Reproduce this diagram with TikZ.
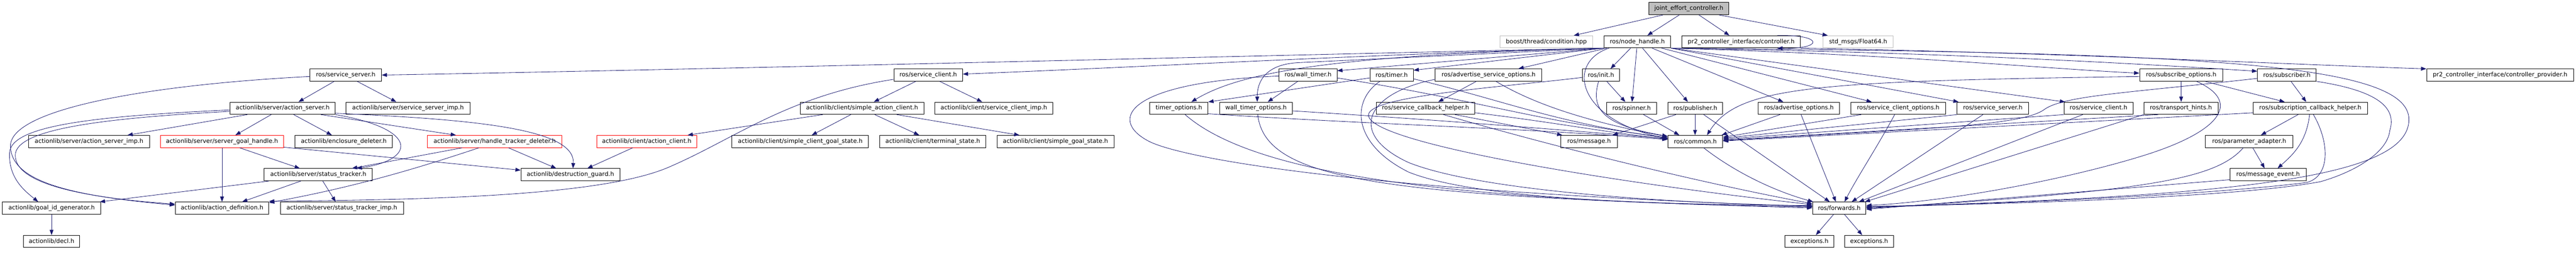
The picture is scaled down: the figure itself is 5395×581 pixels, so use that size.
\documentclass[tikz,border=0pt]{standalone}
\usepackage{fontspec}
\setmainfont{DejaVu Sans}
\usetikzlibrary{arrows.meta}
\definecolor{edgec}{HTML}{191970}
\definecolor{greyb}{HTML}{BFBFBF}
\begin{document}
\begin{tikzpicture}[x=1pt,y=-1pt,
  nbox/.style={draw=black,line width=1pt,rectangle,inner sep=0pt,minimum height=25.5pt,font=\fontsize{12.5}{15}\selectfont},
  redbox/.style={nbox,draw=red},
  greybox/.style={nbox,draw=greyb},
  rootbox/.style={nbox,fill=greyb},
  conn/.style={draw=edgec,line width=0.9pt,-{Triangle[length=11pt,width=8pt]}}]
\useasboundingbox (0,0) rectangle (5395,581);
% row 0
\node[rootbox,minimum width=168pt] (jec) at (3537,18) {joint\_effort\_controller.h};
% row 1
\node[greybox,minimum width=195pt] (boost) at (3238.5,87.5) {boost/thread/condition.hpp};
\node[nbox,minimum width=140pt] (nh) at (3429,87.5) {ros/node\_handle.h};
\node[nbox,minimum width=249pt] (ctrl) at (3646.5,87.5) {pr2\_controller\_interface/controller.h};
\node[greybox,minimum width=147pt] (float) at (3891.5,87.5) {std\_msgs/Float64.h};
% row 2
\node[nbox,minimum width=150pt] (ssL) at (724,157) {ros/service\_server.h};
\node[nbox,minimum width=144pt] (scL) at (1944,157) {ros/service\_client.h};
\node[nbox,minimum width=121pt] (wtimer) at (2739.5,157) {ros/wall\_timer.h};
\node[nbox,minimum width=91pt] (timer) at (2914.5,157) {ros/timer.h};
\node[nbox,minimum width=223pt] (aso) at (3117.5,157) {ros/advertise\_service\_options.h};
\node[nbox,minimum width=78pt] (init) at (3353,157) {ros/init.h};
\node[nbox,minimum width=174pt] (subopt) at (4568,157) {ros/subscribe\_options.h};
\node[nbox,minimum width=123pt] (sub) at (4789.5,157) {ros/subscriber.h};
\node[nbox,minimum width=308pt] (prov) at (5236,157) {pr2\_controller\_interface/controller\_provider.h};
% row 3
\node[nbox,minimum width=220pt] (as) at (592,226.5) {actionlib/server/action\_server.h};
\node[nbox,minimum width=259pt] (ssimp) at (854.5,226.5) {actionlib/server/service\_server\_imp.h};
\node[nbox,minimum width=259pt] (sac) at (1805.5,226.5) {actionlib/client/simple\_action\_client.h};
\node[nbox,minimum width=247pt] (scimp) at (2081.5,226.5) {actionlib/client/service\_client\_imp.h};
\node[nbox,minimum width=122pt] (topt) at (2469,226.5) {timer\_options.h};
\node[nbox,minimum width=153pt] (wtopt) at (2630.5,226.5) {wall\_timer\_options.h};
\node[nbox,minimum width=207pt] (scbh) at (2985.5,226.5) {ros/service\_callback\_helper.h};
\node[nbox,minimum width=104pt] (spin) at (3417,226.5) {ros/spinner.h};
\node[nbox,minimum width=115pt] (pub) at (3550.5,226.5) {ros/publisher.h};
\node[nbox,minimum width=171pt] (aopt) at (3767.5,226.5) {ros/advertise\_options.h};
\node[nbox,minimum width=199pt] (scopt) at (3975.5,226.5) {ros/service\_client\_options.h};
\node[nbox,minimum width=149pt] (ssR) at (4173.5,226.5) {ros/service\_server.h};
\node[nbox,minimum width=144pt] (scR) at (4395,226.5) {ros/service\_client.h};
\node[nbox,minimum width=155pt] (th) at (4567.5,226.5) {ros/transport\_hints.h};
\node[nbox,minimum width=239pt] (subcb) at (4838.5,226.5) {ros/subscription\_callback\_helper.h};
% row 4
\node[nbox,minimum width=253pt] (asimp) at (186.5,296) {actionlib/server/action\_server\_imp.h};
\node[redbox,minimum width=258pt] (sgh) at (465,296) {actionlib/server/server\_goal\_handle.h};
\node[nbox,minimum width=204pt] (encl) at (720,296) {actionlib/enclosure\_deleter.h};
\node[redbox,minimum width=282pt] (htd) at (1036,296) {actionlib/server/handle\_tracker\_deleter.h};
\node[redbox,minimum width=209pt] (ac) at (1354.5,296) {actionlib/client/action\_client.h};
\node[nbox,minimum width=286pt] (scgs) at (1676,296) {actionlib/client/simple\_client\_goal\_state.h};
\node[nbox,minimum width=223pt] (term) at (1953.5,296) {actionlib/client/terminal\_state.h};
\node[nbox,minimum width=245pt] (sgs) at (2210.5,296) {actionlib/client/simple\_goal\_state.h};
\node[nbox,minimum width=118pt] (msg) at (3328,296) {ros/message.h};
\node[nbox,minimum width=115pt] (common) at (3550.5,296) {ros/common.h};
\node[nbox,minimum width=183pt] (padapt) at (4710.5,296) {ros/parameter\_adapter.h};
% row 5
\node[nbox,minimum width=227pt] (st) at (666.5,365.5) {actionlib/server/status\_tracker.h};
\node[nbox,minimum width=207pt] (dg) at (1194.5,365.5) {actionlib/destruction\_guard.h};
\node[nbox,minimum width=160pt] (mevent) at (4750,365.5) {ros/message\_event.h};
% row 6
\node[nbox,minimum width=206pt] (gid) at (108,435.5) {actionlib/goal\_id\_generator.h};
\node[nbox,minimum width=196pt] (adef) at (465,435.5) {actionlib/action\_definition.h};
\node[nbox,minimum width=258pt] (stimp) at (716,435.5) {actionlib/server/status\_tracker\_imp.h};
\node[nbox,minimum width=112pt] (fwd) at (3852,435.5) {ros/forwards.h};
% row 7
\node[nbox,minimum width=118pt] (decl) at (108,505) {actionlib/decl.h};
\node[nbox,minimum width=103pt] (exc1) at (3789.5,505) {exceptions.h};
\node[nbox,minimum width=103pt] (exc2) at (3914.5,505) {exceptions.h};

% ---- top
\draw[conn] (3483,0 |- jec.south) -- (3296,0 |- boost.north);
\draw[conn] (3517,0 |- jec.south) -- (3450,0 |- nh.north);
\draw[conn] (3558,0 |- jec.south) -- (3622,0 |- ctrl.north);
\draw[conn] (3600,0 |- jec.south) -- (3828,0 |- float.north);
\draw[conn] (3722,0 |- ctrl.north) .. controls (3820,72) and (3820,103) .. (3722,0 |- ctrl.south);
\draw[conn] (ctrl.south east) .. controls (4300,110) and (4800,135) .. (prov.west |- 0,144);
% ---- node_handle
\draw[conn] (nh.south west) .. controls (2900,110) and (1500,145) .. (ssL.east |- 0,157);
\draw[conn] (nh.south west) .. controls (2900,112) and (2400,140) .. (scL.east |- 0,155);
\draw[conn] (nh.south west) -- (wtimer.east |- 0,148);
\draw[conn] (nh.south west) -- (timer.east |- 0,147);
\draw[conn] (nh.south west) .. controls (2800,115) and (2600,150) .. (2495,0 |- topt.north);
\draw[conn] (nh.south west) -- (2720,131) .. controls (2656,134) and (2633,165) .. (2633,0 |- wtopt.north);
\draw[conn] (3365,0 |- nh.south) -- (3180,0 |- aso.north);
\draw[conn] (3415,0 |- nh.south) -- (3373,0 |- init.north);
\draw[conn] (3428,0 |- nh.south) -- (3418,0 |- spin.north);
\draw[conn] (3440,0 |- nh.south) -- (3535,0 |- pub.north);
\draw[conn] (3460,0 |- nh.south) -- (3735,0 |- aopt.north);
\draw[conn] (3480,0 |- nh.south) -- (3920,0 |- scopt.north);
\draw[conn] (nh.south east) -- (4102,0 |- ssR.north);
\draw[conn] (nh.south east) -- (4325,0 |- scR.north);
\draw[conn] (nh.south east) .. controls (4000,115) and (4300,145) .. (subopt.west |- 0,153);
\draw[conn] (nh.south east) .. controls (4100,110) and (4500,135) .. (sub.west |- 0,149);
\draw[conn] (3370,0 |- nh.south) .. controls (3280,130) and (3300,250) .. (common.west |- 0,290);
\draw[conn] (nh.south east) .. controls (4600,110) and (5045,130) .. (5045,250) .. controls (5045,370) and (4700,410) .. (fwd.east |- 0,433);
% ---- actionlib
\draw[conn] (700,0 |- ssL.south) -- (625,0 |- as.north);
\draw[conn] (748,0 |- ssL.south) -- (830,0 |- ssimp.north);
\draw[conn] (ssL.west |- 0,160) .. controls (300,178) and (22,230) .. (22,305) .. controls (22,380) and (150,410) .. (adef.west |- 0,429);
\draw[conn] (as.west |- 0,230) .. controls (200,243) and (22,262) .. (20,320) .. controls (18,372) and (50,398) .. (80,0 |- gid.north);
\draw[conn] (as.west |- 0,233) .. controls (200,248) and (32,272) .. (32,325) .. controls (32,390) and (200,415) .. (adef.west |- 0,427);
\draw[conn] (518,0 |- as.south) -- (267,0 |- asimp.north);
\draw[conn] (568,0 |- as.south) -- (493,0 |- sgh.north);
\draw[conn] (615,0 |- as.south) -- (695,0 |- encl.north);
\draw[conn] (672,0 |- as.south) -- (955,0 |- htd.north);
\draw[conn] (as.south east) .. controls (880,270) and (870,335) .. (747,0 |- st.north);
\draw[conn] (as.east |- 0,237) .. controls (1000,250) and (1205,270) .. (1200,0 |- dg.north);
\draw[conn] (465,0 |- sgh.south) -- (465,0 |- adef.north);
\draw[conn] (502,0 |- sgh.south) -- (628,0 |- st.north);
\draw[conn] (sgh.east |- 0,308) -- (dg.west |- 0,356);
\draw[conn] (968,0 |- htd.south) -- (737,0 |- st.north);
\draw[conn] (1003,0 |- htd.south) .. controls (880,350) and (750,390) .. (adef.east |- 0,424);
\draw[conn] (1065,0 |- htd.south) -- (1165,0 |- dg.north);
\draw[conn] (630,0 |- st.south) -- (507,0 |- adef.north);
\draw[conn] (676,0 |- st.south) -- (703,0 |- stimp.north);
\draw[conn] (563,0 |- st.south) -- (209,0 |- gid.north);
\draw[conn] (108,0 |- gid.south) -- (108,0 |- decl.north);
\draw[conn] (1325,0 |- ac.south) -- (1230,0 |- dg.north);
\draw[conn] (1723,0 |- sac.south) -- (1440,0 |- ac.north);
\draw[conn] (1782,0 |- sac.south) -- (1700,0 |- scgs.north);
\draw[conn] (1832,0 |- sac.south) -- (1925,0 |- term.north);
\draw[conn] (1878,0 |- sac.south) -- (2135,0 |- sgs.north);
\draw[conn] (1918,0 |- scL.south) -- (1830,0 |- sac.north);
\draw[conn] (1968,0 |- scL.south) -- (2057,0 |- scimp.north);
\draw[conn] (scL.west |- 0,166) .. controls (1650,200) and (1540,290) .. (1400,350) .. controls (1260,410) and (900,418) .. (adef.east |- 0,421);
% ---- timers
\draw[conn] (2718,0 |- wtimer.south) -- (2655,0 |- wtopt.north);
\draw[conn] (wtimer.east |- 0,163) .. controls (3100,210) and (3200,250) .. (common.west |- 0,288);
\draw[conn] (wtimer.west |- 0,159) .. controls (2360,172) and (2320,250) .. (2405,295) .. controls (2473,331) and (2850,400) .. (fwd.west |- 0,432);
\draw[conn] (timer.west |- 0,163) -- (topt.north east);
\draw[conn] (2890,0 |- timer.south) .. controls (2830,210) and (2830,300) .. (2950,360) .. controls (3100,420) and (3500,428) .. (fwd.west |- 0,430);
\draw[conn] (timer.east |- 0,165) .. controls (3150,210) and (3250,255) .. (common.west |- 0,289);
\draw[conn] (2482,0 |- topt.south) .. controls (2620,360) and (3000,420) .. (fwd.west |- 0,433);
\draw[conn] (topt.east |- 0,238) .. controls (2900,262) and (3200,268) .. (common.west |- 0,292);
\draw[conn] (2634,0 |- wtopt.south) .. controls (2650,380) and (2900,410) .. (fwd.west |- 0,435);
\draw[conn] (wtopt.east |- 0,232) .. controls (3000,250) and (3250,270) .. (common.west |- 0,290);
% ---- advertise service options, init, spinner, publisher
\draw[conn] (3092,0 |- aso.south) -- (3012,0 |- scbh.north);
\draw[conn] (3133,0 |- aso.south) .. controls (3200,210) and (3300,250) .. (common.west |- 0,286);
\draw[conn] (aso.west |- 0,166) .. controls (2860,195) and (2820,280) .. (2950,340) .. controls (3100,400) and (3500,425) .. (fwd.west |- 0,431);
\draw[conn] (3365,0 |- init.south) -- (3404,0 |- spin.north);
\draw[conn] (3348,0 |- init.south) .. controls (3330,230) and (3360,262) .. (common.west |- 0,285);
\draw[conn] (init.west |- 0,162) .. controls (3150,182) and (2870,200) .. (2866,240) .. controls (2862,300) and (3400,385) .. (fwd.west |- 0,428);
\draw[conn] (3442,0 |- spin.south) -- (3517,0 |- common.north);
\draw[conn] (3550,0 |- pub.south) -- (3550,0 |- common.north);
\draw[conn] (3510,0 |- pub.south) -- (3377,0 |- msg.north);
\draw[conn] (3568,0 |- pub.south) -- (3832,0 |- fwd.north);
% ---- right side
\draw[conn] (3728,0 |- aopt.south) -- ([xshift=-3pt]common.north east);
\draw[conn] (3772,0 |- aopt.south) -- (3845,0 |- fwd.north);
\draw[conn] (3898,0 |- scopt.south) -- (common.east |- 0,287);
\draw[conn] (3968,0 |- scopt.south) .. controls (3930,310) and (3890,370) .. (3863,0 |- fwd.north);
\draw[conn] (ssR.south west) -- (common.east |- 0,289);
\draw[conn] (4153,0 |- ssR.south) -- (3878,0 |- fwd.north);
\draw[conn] (scR.south west) -- (common.east |- 0,291);
\draw[conn] (4362,0 |- scR.south) -- (3893,0 |- fwd.north);
\draw[conn] (4568,0 |- subopt.south) -- (4568,0 |- th.north);
\draw[conn] (4618,0 |- subopt.south) -- (4785,0 |- subcb.north);
\draw[conn] (subopt.west |- 0,160) .. controls (3800,170) and (3640,180) .. (3575,0 |- common.north);
\draw[conn] (4600,0 |- subopt.south) .. controls (4690,210) and (4660,270) .. (4500,322) .. controls (4350,370) and (4100,420) .. (fwd.east |- 0,430);
\draw[conn] (4520,0 |- th.south) -- (common.east |- 0,293);
\draw[conn] (th.south west) -- ([xshift=-3pt]fwd.north east);
\draw[conn] (4798,0 |- sub.south) -- (4830,0 |- subcb.north);
\draw[conn] (sub.west |- 0,164) .. controls (4450,195) and (4320,200) .. (4280,230) .. controls (4230,265) and (4000,270) .. (common.east |- 0,294);
\draw[conn] (sub.south east) .. controls (4980,190) and (5020,225) .. (5005,273) .. controls (5000,320) and (4930,360) .. (4860,380) .. controls (4700,410) and (4300,425) .. (fwd.east |- 0,432);
\draw[conn] (4813,0 |- subcb.south) -- (4735,0 |- padapt.north);
\draw[conn] (4837,0 |- subcb.south) .. controls (4830,300) and (4800,325) .. (4770,0 |- mevent.north);
\draw[conn] (subcb.west |- 0,236) -- (common.east |- 0,295);
\draw[conn] (4845,0 |- subcb.south) .. controls (4880,300) and (4880,370) .. (4830,382) .. controls (4600,410) and (4200,425) .. (fwd.east |- 0,434);
\draw[conn] (4718,0 |- padapt.south) -- (4743,0 |- mevent.north);
\draw[conn] (4698,0 |- padapt.south) .. controls (4640,375) and (4500,400) .. (fwd.east |- 0,436);
\draw[conn] (mevent.west |- 0,376) -- (fwd.east |- 0,438);
\draw[conn] (3568,0 |- common.south) .. controls (3620,350) and (3700,395) .. ([xshift=2pt]fwd.north west);
\draw[conn] (scbh.east |- 0,236) .. controls (3250,255) and (3350,275) .. (common.west |- 0,291);
\draw[conn] (3047,0 |- scbh.south) -- (3272,0 |- msg.north);
\draw[conn] (3023,0 |- scbh.south) .. controls (3300,320) and (3600,390) .. (fwd.west |- 0,426);
\draw[conn] (3840,0 |- fwd.south) -- (3803,0 |- exc1.north);
\draw[conn] (3863,0 |- fwd.south) -- (3900,0 |- exc2.north);
\end{tikzpicture}
\end{document}
